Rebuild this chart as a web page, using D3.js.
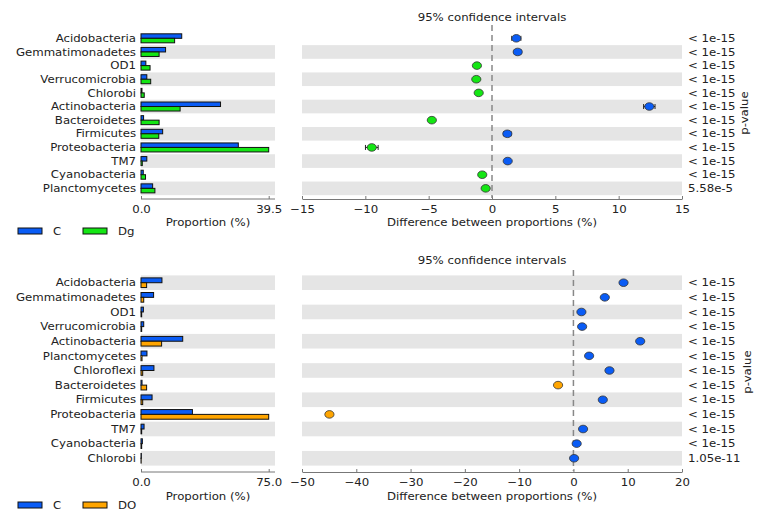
<!DOCTYPE html>
<html>
<head>
<meta charset="UTF-8">
<title>Extended error bar plots</title>
<script src="https://d3js.org/d3.v7.min.js"></script>
<style>
  body { margin: 0; background: #fff; }
  text { font-family: "DejaVu Sans", sans-serif; fill: #222; }
</style>
</head>
<body>
<svg id="chart"></svg>
<script>
// ---- top comparison: C vs Dg ----
const topTaxa = ["Acidobacteria", "Gemmatimonadetes", "OD1", "Verrucomicrobia", "Chlorobi",
  "Actinobacteria", "Bacteroidetes", "Firmicutes", "Proteobacteria", "TM7", "Cyanobacteria", "Planctomycetes"];
const topC  = [12.6, 7.6, 1.5, 1.8, 0.3, 24.6, 0.8, 6.7, 30.1, 1.8, 0.7, 3.6];
const topDg = [10.4, 5.6, 2.8, 3.0, 1.0, 12.1, 5.6, 5.5, 39.5, 0.4, 1.4, 4.3];
const topDiff = [1.92, 2.03, -1.19, -1.24, -1.05, 12.42, -4.75, 1.21, -9.49, 1.24, -0.77, -0.5];
const topCI   = [0.36, 0.28, 0.15, 0.15, 0.15, 0.45, 0.15, 0.3, 0.5, 0.2, 0.15, 0.2];
const topP = ["< 1e-15", "< 1e-15", "< 1e-15", "< 1e-15", "< 1e-15", "< 1e-15",
  "< 1e-15", "< 1e-15", "< 1e-15", "< 1e-15", "< 1e-15", "5.58e-5"];

// ---- bottom comparison: C vs DO ----
const botTaxa = ["Acidobacteria", "Gemmatimonadetes", "OD1", "Verrucomicrobia", "Actinobacteria",
  "Planctomycetes", "Chloroflexi", "Bacteroidetes", "Firmicutes", "Proteobacteria", "TM7", "Cyanobacteria", "Chlorobi"];
const botC  = [12.3, 7.4, 1.4, 1.6, 24.5, 3.5, 7.6, 0.6, 6.5, 30.2, 1.8, 0.8, 0.2];
const botDO = [3.3, 1.6, 0.4, 0.4, 12.1, 0.6, 1.0, 3.3, 1.0, 75.0, 0.4, 0.4, 0.1];
const botDiff = [9.23, 5.78, 1.47, 1.6, 12.3, 2.89, 6.64, -2.83, 5.41, -44.95, 1.78, 0.6, 0.12];
const botCI   = [0.3, 0.25, 0.15, 0.15, 0.35, 0.2, 0.25, 0.2, 0.25, 0.4, 0.15, 0.1, 0.05];
const botP = ["< 1e-15", "< 1e-15", "< 1e-15", "< 1e-15", "< 1e-15", "< 1e-15", "< 1e-15",
  "< 1e-15", "< 1e-15", "< 1e-15", "< 1e-15", "< 1e-15", "1.05e-11"];

const blue = "#0a5cf5";
const width = 769, height = 519;
const fs = "10.5px";   // text is a little wider than tall in the original
const sx = 1.12;

const svg = d3.select("#chart").attr("width", width).attr("height", height);

function panel(cfg) {
  const n = cfg.taxa.length;
  const g = svg.append("g");

  const y = d3.scaleBand().domain(cfg.taxa).range([cfg.top, cfg.top + n * cfg.step]);
  const xp = d3.scaleLinear().domain([0, cfg.pmax]).range([141, 268.7]);
  const xd = d3.scaleLinear().domain(cfg.ddom).range([302, 682]);

  // alternating shading, counted from the bottom row
  const shaded = cfg.taxa.filter((d, i) => (n - 1 - i) % 2 === 0);
  g.selectAll(".bandL").data(shaded).enter().append("rect")
    .attr("x", 141).attr("width", 134)
    .attr("y", d => y(d)).attr("height", y.bandwidth())
    .attr("fill", "#e5e5e5");
  g.selectAll(".bandR").data(shaded).enter().append("rect")
    .attr("x", 302).attr("width", 380)
    .attr("y", d => y(d)).attr("height", y.bandwidth())
    .attr("fill", "#e5e5e5");

  // category labels
  g.selectAll(".cat").data(cfg.taxa).enter().append("text")
    .attr("x", 136).attr("y", d => y(d) + y.bandwidth() / 2)
    .attr("dy", "0.35em").attr("text-anchor", "end")
    .attr("font-size", fs).text(d => d);

  // proportion bars
  const bh = y.bandwidth() * cfg.barFrac;
  const mid = d => y(d) + y.bandwidth() / 2;
  g.selectAll(".barC").data(cfg.taxa).enter().append("rect")
    .attr("x", xp(0)).attr("y", d => mid(d) - bh)
    .attr("width", (d, i) => xp(cfg.a[i]) - xp(0)).attr("height", bh)
    .attr("fill", blue).attr("stroke", "#111").attr("stroke-width", 1);
  g.selectAll(".barB").data(cfg.taxa).enter().append("rect")
    .attr("x", xp(0)).attr("y", d => mid(d))
    .attr("width", (d, i) => xp(cfg.b[i]) - xp(0)).attr("height", bh)
    .attr("fill", cfg.color).attr("stroke", "#111").attr("stroke-width", 1);

  // axes
  const ay = cfg.axisY;
  const axL = d3.axisBottom(xp).tickValues([0, cfg.pmax]).tickFormat(d3.format(".1f"))
    .tickSizeInner(-3).tickSizeOuter(0).tickPadding(7);
  const gl = g.append("g").attr("transform", `translate(0,${ay})`).call(axL);
  gl.select(".domain").attr("d", `M141,0H275`);
  const axR = d3.axisBottom(xd).ticks(cfg.dticks).tickFormat(d3.format("d"))
    .tickSizeInner(-3).tickSizeOuter(0).tickPadding(7);
  const gr = g.append("g").attr("transform", `translate(0,${ay})`).call(axR);
  [gl, gr].forEach(a => {
    a.selectAll("text").attr("font-size", fs).attr("font-family", "DejaVu Sans").attr("fill", "#222");
    a.selectAll("line, path").attr("stroke", "#777");
  });

  g.append("text").attr("x", 208).attr("y", ay + cfg.titleOff).attr("text-anchor", "middle")
    .attr("font-size", fs).text("Proportion (%)");
  g.append("text").attr("x", 492).attr("y", ay + cfg.titleOff).attr("text-anchor", "middle")
    .attr("font-size", fs).text("Difference between proportions (%)");

  // zero line
  g.append("line").attr("x1", xd(0)).attr("x2", xd(0))
    .attr("y1", cfg.dashTop).attr("y2", ay - 1)
    .attr("stroke", "#888").attr("stroke-width", 1.5).attr("stroke-dasharray", "6,4");

  g.append("text").attr("x", 492).attr("y", cfg.titleY).attr("text-anchor", "middle")
    .attr("font-size", fs).text("95% confidence intervals");

  // CI error bars and points
  const col = i => cfg.diff[i] >= 0 ? blue : cfg.color;
  const eb = g.selectAll(".eb").data(cfg.taxa).enter().append("g")
    .attr("stroke", "#222").attr("stroke-width", 1);
  eb.append("line")
    .attr("x1", (d, i) => xd(cfg.diff[i] - cfg.ci[i])).attr("x2", (d, i) => xd(cfg.diff[i] + cfg.ci[i]))
    .attr("y1", mid).attr("y2", mid);
  eb.append("line")
    .attr("x1", (d, i) => xd(cfg.diff[i] - cfg.ci[i])).attr("x2", (d, i) => xd(cfg.diff[i] - cfg.ci[i]))
    .attr("y1", d => mid(d) - 2.5).attr("y2", d => mid(d) + 2.5);
  eb.append("line")
    .attr("x1", (d, i) => xd(cfg.diff[i] + cfg.ci[i])).attr("x2", (d, i) => xd(cfg.diff[i] + cfg.ci[i]))
    .attr("y1", d => mid(d) - 2.5).attr("y2", d => mid(d) + 2.5);
  g.selectAll(".pt").data(cfg.taxa).enter().append("ellipse")
    .attr("cx", (d, i) => xd(cfg.diff[i])).attr("cy", mid)
    .attr("rx", 4.6).attr("ry", 3.8)
    .attr("fill", (d, i) => col(i)).attr("stroke", "#333").attr("stroke-width", 0.8);

  // p-values
  g.selectAll(".pv").data(cfg.taxa).enter().append("text")
    .attr("x", 688).attr("y", mid).attr("dy", "0.35em")
    .attr("font-size", fs).text((d, i) => cfg.p[i]);
  g.append("text")
    .attr("transform", `translate(${cfg.pLabX},${cfg.pLabY}) rotate(-90)`)
    .attr("text-anchor", "middle").attr("font-size", fs).text("p-value");

  // legend
  const ly = cfg.legendY;
  [[blue, "C"], [cfg.color, cfg.name]].forEach((e, k) => {
    const lx = 18 + k * 65;
    g.append("rect").attr("x", lx).attr("y", ly - 3).attr("width", 24).attr("height", 6)
      .attr("fill", e[0]).attr("stroke", "#111").attr("stroke-width", 1);
    g.append("text").attr("x", lx + 35).attr("y", ly).attr("dy", "0.35em")
      .attr("font-size", fs).text(e[1]);
  });
}

panel({
  taxa: topTaxa, a: topC, b: topDg, diff: topDiff, ci: topCI, p: topP,
  color: "#14e614", name: "Dg", pmax: 39.5, ddom: [-15, 15], dticks: 6,
  top: 31.5, step: 13.64, barFrac: 0.33, axisY: 199, titleOff: 27,
  dashTop: 25, titleY: 21, pLabX: 748, pLabY: 113, legendY: 231
});

panel({
  taxa: botTaxa, a: botC, b: botDO, diff: botDiff, ci: botCI, p: botP,
  color: "#ffa500", name: "DO", pmax: 75.0, ddom: [-50, 20], dticks: 7,
  top: 275.4, step: 14.63, barFrac: 0.33, axisY: 472, titleOff: 28,
  dashTop: 270, titleY: 264, pLabX: 751, pLabY: 372, legendY: 505
});

// widen every label horizontally around its anchor point
svg.selectAll("text").each(function () {
  const t = d3.select(this);
  const x = +t.attr("x") || 0, yy = +t.attr("y") || 0;
  const tr = t.attr("transform") || "";
  t.attr("x", 0).attr("y", 0).attr("transform", `${tr} translate(${x},${yy}) scale(${sx},1)`);
});
</script>
</body>
</html>
